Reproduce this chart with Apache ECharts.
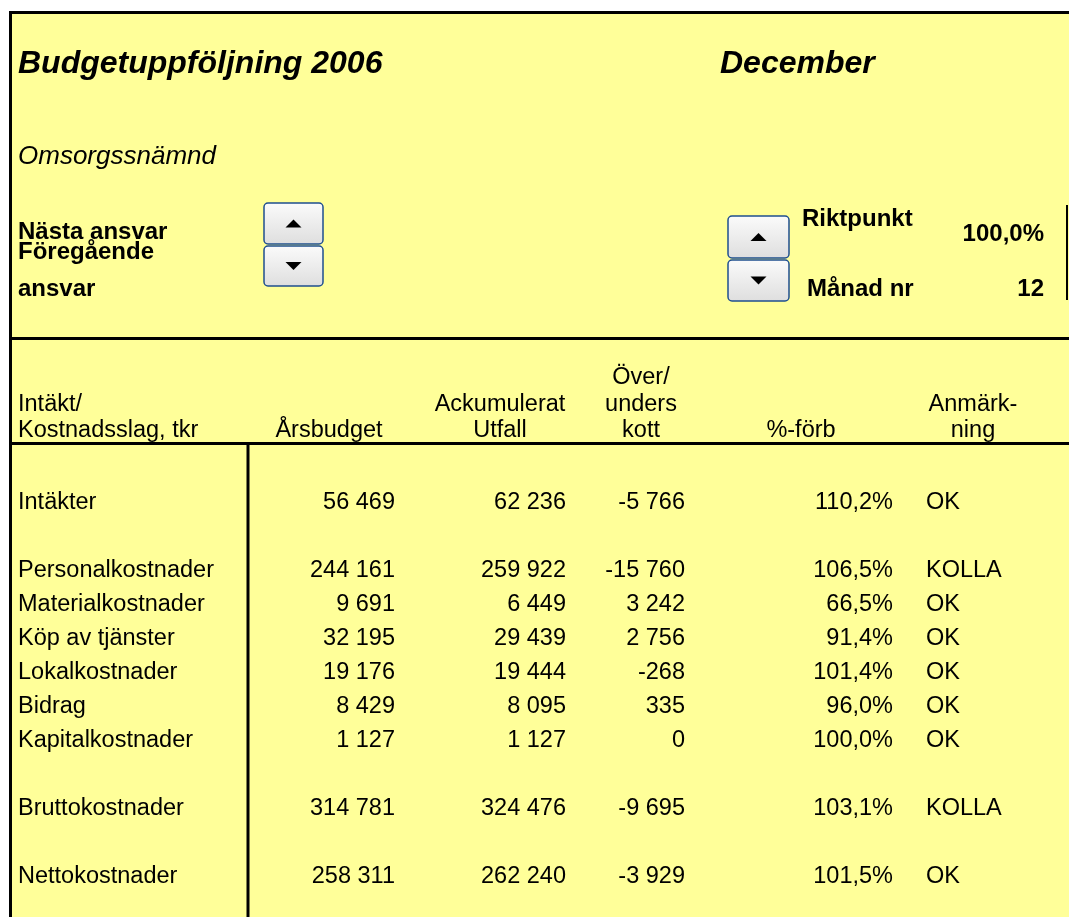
<!DOCTYPE html>
<html>
<head>
<meta charset="utf-8">
<title>Budgetuppföljning 2006</title>
<script src="https://cdn.jsdelivr.net/npm/echarts@6/dist/echarts.min.js"></script>
<style>
  html, body { margin: 0; padding: 0; background: #fff; }
  #main { width: 1069px; height: 917px; }
</style>
</head>
<body>
<div id="main"></div>
<script>
// Data
const categories = ['Intäkter', 'Personalkostnader', 'Materialkostnader', 'Köp av tjänster',
  'Lokalkostnader', 'Bidrag', 'Kapitalkostnader', 'Bruttokostnader', 'Nettokostnader'];
const arsbudget = [56469, 244161, 9691, 32195, 19176, 8429, 1127, 314781, 258311];
const utfall = [62236, 259922, 6449, 29439, 19444, 8095, 1127, 324476, 262240];
const overUnder = [-5766, -15760, 3242, 2756, -268, 335, 0, -9695, -3929];
const forbPct = [110.2, 106.5, 66.5, 91.4, 101.4, 96.0, 100.0, 103.1, 101.5];
const anmarkning = ['OK', 'KOLLA', 'OK', 'OK', 'OK', 'OK', 'OK', 'KOLLA', 'OK'];
// sheet rows, blank rows in between
const rowSlots = ['Intäkter', '_b1', 'Personalkostnader', 'Materialkostnader', 'Köp av tjänster',
  'Lokalkostnader', 'Bidrag', 'Kapitalkostnader', '_b2', 'Bruttokostnader', '_b3', 'Nettokostnader'];
const riktpunkt = 100.0;
const manadNr = 12;

const FONT = '"Liberation Sans", Arial, sans-serif';
const YELLOW = '#ffff99';

// column anchors (x in px)
const col = { label: 18, budget: 395, utfall: 566, diff: 685, pct: 893, note: 926 };

function tkr(v) {
  const s = String(Math.abs(v)).replace(/\B(?=(\d{3})+(?!\d))/g, ' ');
  return (v < 0 ? '-' : '') + s;
}
function pct(v) {
  return v.toFixed(1).replace('.', ',') + '%';
}

function txt(x, y, text, font, align) {
  return {
    type: 'text', x: x, y: y, silent: true,
    style: { text: text, font: font, fill: '#000', align: align || 'left', verticalAlign: 'middle' }
  };
}
function line(x1, y1, x2, y2, w) {
  return {
    type: 'line', silent: true,
    shape: { x1: x1, y1: y1, x2: x2, y2: y2 },
    style: { stroke: '#000', lineWidth: w }
  };
}
function spinButton(x, y, w, h, up) {
  const cx = x + w / 2, cy = y + h / 2;
  const pts = up
    ? [[cx - 8, cy + 4], [cx + 8, cy + 4], [cx, cy - 4]]
    : [[cx - 8, cy - 4], [cx + 8, cy - 4], [cx, cy + 4]];
  return [
    {
      type: 'rect', silent: true,
      shape: { x: x, y: y, width: w, height: h, r: 4 },
      style: {
        fill: new echarts.graphic.LinearGradient(0, 0, 0, 1, [
          { offset: 0, color: '#fbfbfb' }, { offset: 1, color: '#dedede' }
        ]),
        stroke: '#1f4f8f', lineWidth: 1.5
      }
    },
    { type: 'polygon', silent: true, shape: { points: pts }, style: { fill: '#000' } }
  ];
}

const regular = '23.5px ' + FONT;
const bold = 'bold 24px ' + FONT;

const graphics = [
  // sheet background
  { type: 'rect', silent: true, shape: { x: 9, y: 11, width: 1060, height: 906 }, style: { fill: YELLOW } },
  // top section
  txt(18, 64, 'Budgetuppföljning 2006', 'italic bold 32px ' + FONT),
  txt(720, 64, 'December', 'italic bold 32px ' + FONT),
  txt(18, 157, 'Omsorgssnämnd', 'italic 26px ' + FONT),
  txt(18, 232, 'Nästa ansvar', bold),
  txt(18, 252, 'Föregående', bold),
  txt(18, 289, 'ansvar', bold),
  ...spinButton(264, 203, 59, 41, true),
  ...spinButton(264, 246, 59, 40, false),
  ...spinButton(728, 216, 61, 42, true),
  ...spinButton(728, 260, 61, 41, false),
  txt(802, 219, 'Riktpunkt', bold),
  txt(1044, 234, pct(riktpunkt), bold, 'right'),
  txt(807, 289, 'Månad nr', bold),
  txt(1044, 289, String(manadNr), bold, 'right'),
  // column headers
  txt(18, 405, 'Intäkt/', regular),
  txt(18, 431, 'Kostnadsslag, tkr', regular),
  txt(329, 431, 'Årsbudget', regular, 'center'),
  txt(500, 405, 'Ackumulerat', regular, 'center'),
  txt(500, 431, 'Utfall', regular, 'center'),
  txt(641, 378, 'Över/', regular, 'center'),
  txt(641, 405, 'unders', regular, 'center'),
  txt(641, 431, 'kott', regular, 'center'),
  txt(801, 431, '%-förb', regular, 'center'),
  txt(973, 405, 'Anmärk-', regular, 'center'),
  txt(973, 431, 'ning', regular, 'center'),
  // borders
  line(9, 12.5, 1069, 12.5, 3),
  line(10.5, 11, 10.5, 917, 3),
  line(9, 338.5, 1069, 338.5, 3),
  line(9, 443.5, 1069, 443.5, 3),
  line(248, 445, 248, 917, 3),
  line(1067, 205, 1067, 300, 2)
];

// one text cell per value, placed through the axes
function cells(values, format, x) {
  return categories.map((c, i) => [x, c, format(values[i])]);
}
function textSeries(name, data, align) {
  return {
    name: name,
    type: 'custom',
    silent: true,
    data: data,
    encode: { x: 0, y: 1 },
    renderItem: function (params, api) {
      const p = api.coord([api.value(0), api.value(1)]);
      return {
        type: 'text', x: p[0], y: p[1],
        style: {
          text: data[params.dataIndex][2], font: regular, fill: '#000',
          align: align, verticalAlign: 'middle'
        }
      };
    }
  };
}

const chart = echarts.init(document.getElementById('main'));
chart.setOption({
  backgroundColor: '#ffffff',
  animation: false,
  graphic: { elements: graphics },
  grid: { left: 0, right: 0, top: 485, bottom: 23 },
  xAxis: { type: 'value', min: 0, max: 1069, show: false },
  yAxis: { type: 'category', data: rowSlots, inverse: true, show: false },
  series: [
    textSeries('Kostnadsslag', categories.map(c => [col.label, c, c]), 'left'),
    textSeries('Årsbudget', cells(arsbudget, tkr, col.budget), 'right'),
    textSeries('Ackumulerat utfall', cells(utfall, tkr, col.utfall), 'right'),
    textSeries('Över/underskott', cells(overUnder, tkr, col.diff), 'right'),
    textSeries('%-förb', cells(forbPct, pct, col.pct), 'right'),
    textSeries('Anmärkning', cells(anmarkning, v => v, col.note), 'left')
  ]
});
</script>
</body>
</html>
